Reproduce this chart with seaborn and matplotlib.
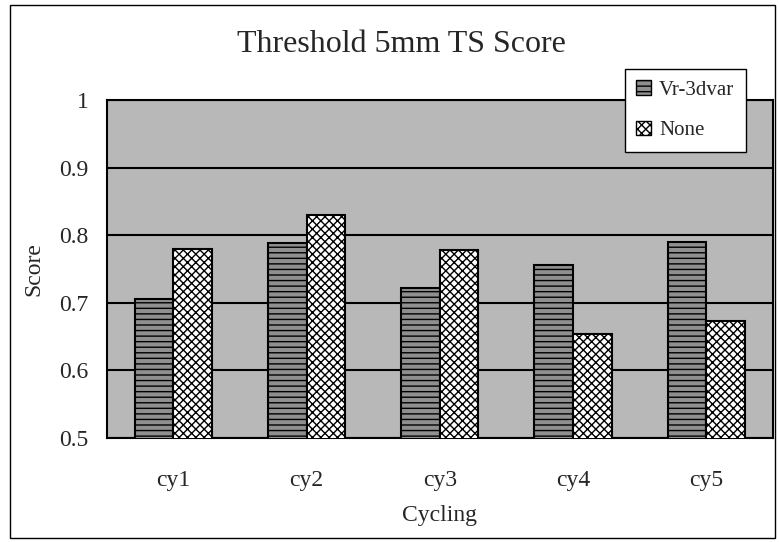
import matplotlib
matplotlib.use("Agg")
import matplotlib.pyplot as plt
import seaborn as sns
import pandas as pd
from matplotlib.patches import Patch, Rectangle

categories = ["cy1", "cy2", "cy3", "cy4", "cy5"]
series_names = ["Vr-3dvar", "None"]
vr_3dvar = [0.706, 0.788, 0.722, 0.756, 0.790]
none_vals = [0.780, 0.830, 0.778, 0.654, 0.673]
y_ticks = [0.5, 0.6, 0.7, 0.8, 0.9, 1.0]
y_ticklabels = ["0.5", "0.6", "0.7", "0.8", "0.9", "1"]

df = pd.DataFrame({
    "Cycling": categories * 2,
    "Series": [series_names[0]] * 5 + [series_names[1]] * 5,
    "Score": vr_3dvar + none_vals,
})

sns.set_style("white")
plt.rcParams["font.family"] = ["Liberation Serif", "DejaVu Serif"]
plt.rcParams["hatch.linewidth"] = 1.0

fig = plt.figure(figsize=(7.79, 5.42), dpi=100)
ax = fig.add_axes([0.137, 0.192, 0.855, 0.623])

colors = {"Vr-3dvar": "#8f8f8f", "None": "#ffffff"}
hatches = {"Vr-3dvar": "---", "None": "xxxx"}

sns.barplot(data=df, x="Cycling", y="Score", hue="Series", hue_order=series_names,
            palette=colors, width=0.58, edgecolor="black", linewidth=1.5,
            ax=ax, legend=False, zorder=3)

for container, name in zip(ax.containers, series_names):
    for bar in container:
        bar.set_hatch(hatches[name])
        bar.set_edgecolor("black")
        bar.set_zorder(3)

ax.set_facecolor("#b8b8b8")
ax.set_ylim(0.5, 1.0)
ax.set_xlim(-0.5, 4.5)
ax.set_yticks(y_ticks)
ax.set_yticklabels(y_ticklabels)
ax.yaxis.grid(True, color="black", linewidth=1.5, zorder=1)
ax.set_axisbelow(True)
for s in ax.spines.values():
    s.set_color("black")
    s.set_linewidth(1.5)
ax.tick_params(axis="both", length=0, labelsize=17)
ax.tick_params(axis="x", pad=23)
ax.tick_params(axis="y", pad=13)
ax.set_xlabel("Cycling", fontsize=17, labelpad=10)
ax.set_ylabel("Score", fontsize=17, labelpad=11)

fig.text(0.515, 0.917, "Threshold 5mm TS Score", fontsize=23, ha="center", va="center")

handles = [Patch(facecolor=colors[n], edgecolor="black", hatch=hatches[n], label=n)
           for n in series_names]
leg = fig.legend(handles=handles, loc="upper left", bbox_to_anchor=(0.802, 0.873),
                 borderaxespad=0, fontsize=15, frameon=True, fancybox=False,
                 edgecolor="black", facecolor="white", framealpha=1,
                 handlelength=0.7, handleheight=0.7, handletextpad=0.4,
                 labelspacing=1.0, borderpad=0.55)
leg.get_frame().set_linewidth(1.0)

fig.patches.append(Rectangle((0.013, 0.008), 0.982, 0.983, transform=fig.transFigure,
                             fill=False, edgecolor="black", linewidth=1.0))

fig.savefig("out.png", dpi=100)
